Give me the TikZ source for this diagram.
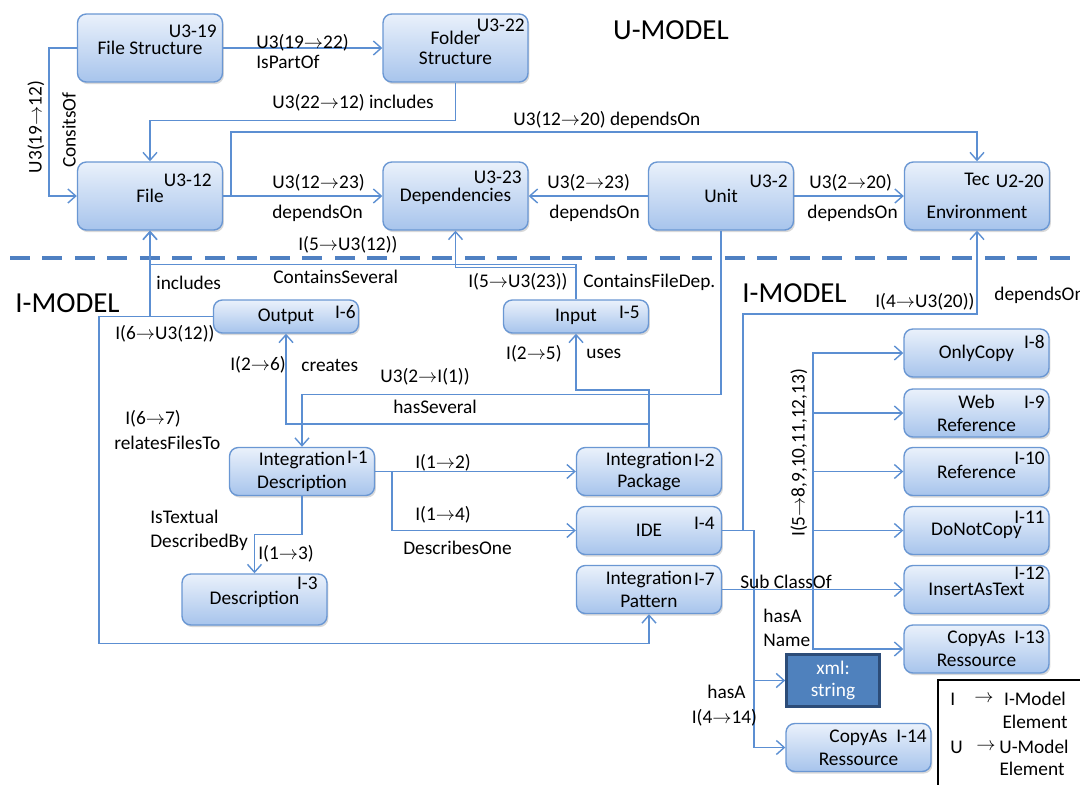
\documentclass[tikz,border=0pt]{standalone}
\usepackage{fontspec}
\setmainfont{Carlito}
\usetikzlibrary{arrows.meta,shadows}
\definecolor{boxtop}{HTML}{EAF1FB}
\definecolor{boxbot}{HTML}{A7C4EC}
\definecolor{boxedge}{HTML}{6A97D3}
\definecolor{wire}{HTML}{5C8FD2}
\definecolor{sepline}{HTML}{4F80C2}
\definecolor{xmlfill}{HTML}{4F81BD}
\definecolor{xmledge}{HTML}{2C4C78}
\newcommand{\rto}{\ensuremath{\rightarrow}}

\begin{document}
\begin{tikzpicture}[x=0.02cm,y=-0.02cm,font=\fontsize{11}{13}\selectfont,
  conn/.style={wire,line width=0.8pt,-{Straight Barb[length=4.5pt,width=8pt]}},
  box/.style={draw=boxedge,line width=0.8pt,rounded corners=5pt,
    top color=boxtop,bottom color=boxbot,align=center,inner sep=1pt,
    drop shadow={shadow xshift=0.8pt,shadow yshift=-1.2pt,opacity=0.3},
    minimum width=2.9cm},
  ubox/.style={box,minimum height=1.36cm},
  ibox/.style={box,minimum height=0.96cm},
  thinbox/.style={box,minimum height=0.66cm},
  xmlbox/.style={draw=xmledge,line width=1.8pt,fill=xmlfill,text=white,
    align=center,minimum width=1.85cm,minimum height=1.05cm},
  idtxt/.style={anchor=east,inner sep=0pt},
  lbl/.style={anchor=west,inner sep=0pt},
  title/.style={font=\fontsize{16.5}{18}\selectfont,inner sep=0pt}]
\useasboundingbox (0,0) rectangle (1080,785);
% model border
\draw[sepline,line width=2.7pt,dash pattern=on 0.4cm off 0.25cm] (10,258) -- (1080,258);
\node[title] (utitle) at (671,30) {U-MODEL};
\node[title,anchor=west] (ititle) at (15,303) {I-MODEL};
\node[title,anchor=west] (ititle2) at (742,293) {I-MODEL};
% U-model elements
\node[ubox] (fs) at (150,48) {\raisebox{-4pt}{File Structure}};
\node[ubox] (fold) at (455.5,48) {Folder\\[-2pt]Structure};
\node[ubox] (file) at (150,196) {\raisebox{-2pt}{File}};
\node[ubox] (dep) at (455.5,196) {\raisebox{-7pt}{Dependencies}};
\node[ubox] (unit) at (721,196) {Unit};
\node[ubox] (tec) at (977,196) {Tec\\[6pt]Environment};
\node[idtxt] (fsid) at (217,31) {U3-19};
\node[idtxt] (foldid) at (525,25) {U3-22};
\node[idtxt] (fileid) at (212,180) {U3-12};
\node[idtxt] (depid) at (522,177) {U3-23};
\node[idtxt] (unitid) at (788,181) {U3-2};
\node[idtxt] (tecid) at (1044,181) {U2-20};
% I-model elements
\node[thinbox] (out) at (286,316.5) {Output};
\node[thinbox] (inp) at (576,316.5) {Input};
\node[ibox] (i1) at (302,471.5) {Integration\\Description};
\node[ibox] (pkg) at (649,471.5) {Integration\\Package};
\node[ibox] (ide) at (649,530.5) {IDE};
\node[ibox] (pat) at (649,589.5) {Integration\\Pattern};
\node[ibox,minimum height=1.02cm] (desc) at (254.5,599.5) {Description};
\node[ibox] (i8) at (976.5,353) {OnlyCopy};
\node[ibox] (i9) at (976.5,413) {Web\\Reference};
\node[ibox] (i10) at (976.5,471.5) {Reference};
\node[ibox] (i11) at (976.5,530.5) {DoNotCopy};
\node[ibox] (i12) at (976.5,589.5) {InsertAsText};
\node[ibox] (i13) at (976.5,649) {CopyAs\\Ressource};
\node[ibox] (i14) at (858.5,747.5) {CopyAs\\Ressource};
\node[xmlbox] (xml) at (833,680.5) {xml:\\string};
\node[idtxt] (outid) at (356,312) {I-6};
\node[idtxt] (inpid) at (640,312) {I-5};
\node[idtxt] (i1id) at (368,457) {I-1};
\node[idtxt] (pkgid) at (715,460) {I-2};
\node[idtxt] (ideid) at (715,523) {I-4};
\node[idtxt] (patid) at (715,579) {I-7};
\node[idtxt] (descid) at (318,583) {I-3};
\node[idtxt] (i8id) at (1045,342) {I-8};
\node[idtxt] (i9id) at (1045,402) {I-9};
\node[idtxt] (i10id) at (1045,458) {I-10};
\node[idtxt] (i11id) at (1045,517) {I-11};
\node[idtxt] (i12id) at (1045,573) {I-12};
\node[idtxt] (i13id) at (1045,637) {I-13};
\node[idtxt] (i14id) at (927,736) {I-14};
% U-model relations
\draw[conn] (fs) -- (fold);
\draw[conn] (fold.south) -- ++(0,38) -| (file.north);
\draw[conn] (fs.west) -- ++(-28,0) |- (file.west);
\draw[conn] (file) -- (dep);
\draw[conn] (file.east) -- ++(8,0) -- ++(0,-64) -| (tec.north);
\draw[conn] (unit) -- (dep);
\draw[conn] (unit) -- (tec);
% I-model relations
\draw[conn] (inp.north) -- ++(0,-35) -| (file.south);
\draw[conn] (inp.north) -- ++(0,-32) -| (dep.south);
\draw[conn] (out.west) -| (file.south);
\draw[conn] (out.west) -- ++(-114,0) -- ++(0,327) -| (pat.south);
\draw[conn] (unit.south) -- ++(0,164) -| (i1.north);
\draw[conn] (pkg.north) -- ++(0,-23) -| (out.south);
\draw[conn] (pkg.north) -- ++(0,-57) -| (inp.south);
\draw[conn] (i1) -- (pkg);
\draw[conn] (i1.east) -- ++(17,0) |- (ide.west);
\draw[conn] (i1.south) -- ++(0,38) -| (desc.north);
\draw[conn] (ide.east) -- ++(21,0) -- ++(0,-216.5) -| (tec.south);
\draw[conn] (ide.east) -- ++(32,0) |- (i14.west);
\draw[conn] (ide.east) -- ++(32,0) |- (xml.west);
\foreach \tgt in {i8,i9,i10,i11,i12,i13}{ \draw[conn] (pat.east) -- ++(91,0) |- (\tgt.west); }
% relation labels
\node[lbl] (a1) at (256,43) {U3(19\rto22)};
\node[lbl] (a2) at (256,62) {IsPartOf};
\node[rotate=90,inner sep=0pt] (a3) at (36,127) {U3(19\rto12)};
\node[rotate=90,inner sep=0pt] (a4) at (69,130) {ConsitsOf};
\node[lbl] (a5) at (272,103) {U3(22\rto12) includes};
\node[lbl] (a6) at (513,120) {U3(12\rto20) dependsOn};
\node[lbl] (a7) at (272,183) {U3(12\rto23)};
\node[lbl] (a8) at (272,213) {dependsOn};
\node[lbl] (a9) at (547,183) {U3(2\rto23)};
\node[lbl] (a10) at (549,213) {dependsOn};
\node[lbl] (a11) at (809,183) {U3(2\rto20)};
\node[lbl] (a12) at (807,213) {dependsOn};
\node[lbl] (b1) at (298,245) {I(5\rto U3(12))};
\node[lbl] (b2) at (273,277) {ContainsSeveral};
\node[lbl] (b3) at (156,283) {includes};
\node[lbl] (b4) at (115,334) {I(6\rto U3(12))};
\node[lbl] (b5) at (468,282) {I(5\rto U3(23))};
\node[lbl] (b6) at (583,282) {ContainsFileDep.};
\node[lbl] (b7) at (875,302) {I(4\rto U3(20))};
\node[lbl] (b8) at (994,295) {dependsOn};
\node[anchor=east,inner sep=0pt] (b9) at (562,354) {I(2\rto5)};
\node[lbl] (b10) at (586,354) {uses};
\node[lbl] (b11) at (230,365) {I(2\rto6)};
\node[lbl] (b12) at (301,365) {creates};
\node[lbl] (b13) at (380,377) {U3(2\rto I(1))};
\node[lbl] (b14) at (393,407) {hasSeveral};
\node[lbl] (b15) at (125,419) {I(6\rto7)};
\node[lbl] (b16) at (114,443) {relatesFilesTo};
\node[lbl] (b17) at (415,463) {I(1\rto2)};
\node[lbl] (b18) at (415,515) {I(1\rto4)};
\node[lbl] (b19) at (403,548) {DescribesOne};
\node[lbl] (b20) at (150,517) {IsTextual};
\node[lbl] (b21) at (150,542) {DescribedBy};
\node[lbl] (b22) at (258,554) {I(1\rto3)};
\node[lbl] (b23) at (740,582) {Sub ClassOf};
\node[lbl] (b24) at (763,616) {hasA};
\node[lbl] (b25) at (763,640) {Name};
\node[lbl] (b26) at (707,692) {hasA};
\node[lbl] (b27) at (691.5,718) {I(4\rto14)};
\node[rotate=90,inner sep=0pt] (b28) at (799,453) {I(5\rto8,9,10,11,12,13)};
% legend
\draw[line width=1.6pt] (938,680) rectangle (1100,800);
\node[lbl] (k1) at (950,699) {I};
\node[inner sep=0pt] (k2) at (984,699) {\rto};
\node[inner sep=0pt] (k3) at (1035,699) {I-Model};
\node[inner sep=0pt] (k4) at (1035,722) {Element};
\node[lbl] (k5) at (950,747) {U};
\node[inner sep=0pt] (k6) at (986,747) {\rto};
\node[inner sep=0pt] (k7) at (1034,747) {U-Model};
\node[inner sep=0pt] (k8) at (1032,769) {Element};
\end{tikzpicture}
\end{document}
